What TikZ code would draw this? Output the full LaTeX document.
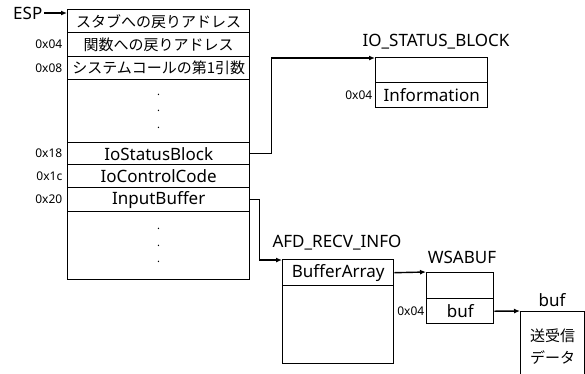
\documentclass[tikz,border=0pt]{standalone}
\usepackage{fontspec}
\setmainfont{Noto Sans}
\newfontfamily\jp{Noto Sans CJK JP}
\usetikzlibrary{arrows.meta}

\begin{document}
\begin{tikzpicture}[x=1pt,y=-1pt,line width=1.4pt,
  every node/.style={font=\fontsize{17}{20}\selectfont},
  cell/.style={draw,rectangle,anchor=north west,inner sep=0pt,minimum width=#1},
  jcell/.style={cell=#1,font=\jp\fontsize{15}{18}\selectfont},
  dots/.style={cell=#1,align=center,font=\fontsize{11}{16.5}\selectfont},
  offs/.style={font=\fontsize{12}{14}\selectfont,inner sep=1pt},
  title/.style={inner sep=1pt},
  link/.style={-{Latex[length=6pt,width=5pt]}}]
\useasboundingbox (0,0) rectangle (585,373);
\clip (0,0) rectangle (585,373);
% stack
\node[jcell=182,minimum height=23] (r0) at (67,9) {スタブへの戻りアドレス};
\node[jcell=182,minimum height=24,label={[offs,label distance=3pt]left:0x04}] (r1) at (67,32) {関数への戻りアドレス};
\node[jcell=182,minimum height=23,label={[offs,label distance=3pt]left:0x08}] (r2) at (67,56) {システムコールの第1引数};
\node[dots=182,minimum height=63] (r3) at (67,79) {.\\.\\.};
\node[cell=182,minimum height=22,label={[offs,label distance=3pt]left:0x18}] (r4) at (67,142) {IoStatusBlock};
\node[cell=182,minimum height=23,label={[offs,label distance=3pt]left:0x1c}] (r5) at (67,164) {IoControlCode};
\node[cell=182,minimum height=24,label={[offs,label distance=3pt]left:0x20}] (r6) at (67,187) {InputBuffer};
\node[dots=182,minimum height=68] (r7) at (67,211) {.\\.\\.};
\node[title,anchor=east] (esp) at (44,13) {ESP};
\draw[link] (esp.east) -- ([yshift=-4pt]r0.north west);

% IO_STATUS_BLOCK
\node[title] (iot) at (436,42) {IO\_STATUS\_BLOCK};
\node[cell=112,minimum height=25] (io) at (375,57) {};
\node[cell=112,minimum height=25,label={[offs,label distance=1pt]left:0x04}] (io1) at (375,82) {Information};
\draw[link] (r4.east) -- ++(21,0) |- ([yshift=-1pt]io.north west);

% AFD_RECV_INFO
\node[title] (afdt) at (337,243) {AFD\_RECV\_INFO};
\node[cell=111,minimum height=26] (afd) at (282,259) {BufferArray};
\node[cell=111,minimum height=78] (afd1) at (282,285) {};
\draw[link] (r6.east) -- ++(9,0) |- ([yshift=-1pt]afd.north west);

% WSABUF
\node[title] (wst) at (462,257) {WSABUF};
\node[cell=67,minimum height=26] (ws) at (426,272) {};
\node[cell=67,minimum height=25,label={[offs,label distance=0pt]left:0x04}] (ws1) at (426,298) {buf};
\draw[link] (afd.east) -- (ws.north west);

% buf
\node[title] (buft) at (552,300) {buf};
\node[cell=64,minimum height=70,align=center,font=\jp\fontsize{15}{22}\selectfont] (bb) at (520,311) {送受信\\データ};
\draw[link] (ws1.east) -- (bb.north west);
\end{tikzpicture}
\end{document}
